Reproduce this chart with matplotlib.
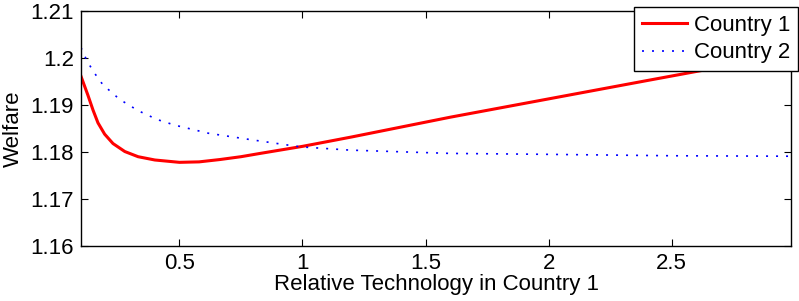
import matplotlib
matplotlib.use('Agg')
import matplotlib.pyplot as plt

# values
x_red = [0.1, 0.128, 0.149, 0.169, 0.196, 0.23, 0.278, 0.332, 0.4, 0.5, 0.58, 0.665, 0.75, 0.828,
         1.0, 1.2, 1.6, 2.0, 2.4, 2.99]
y_red = [1.1961, 1.1921, 1.1889, 1.1862, 1.1838, 1.1818, 1.1801, 1.1790, 1.1783, 1.1778, 1.1779,
         1.1784, 1.1790, 1.1797, 1.1812, 1.1832, 1.1874, 1.1913, 1.1952, 1.2009]
x_blue = [0.1, 0.125, 0.156, 0.189, 0.257, 0.332, 0.41, 0.482, 0.617, 0.78, 0.99, 1.193, 1.6, 2.0,
          2.5, 2.99]
y_blue = [1.2022, 1.1993, 1.1967, 1.1943, 1.1912, 1.1888, 1.1869, 1.1857, 1.1840, 1.1827, 1.1811,
          1.1804, 1.1797, 1.1795, 1.1792, 1.1791]

plt.rcParams['font.family'] = ['Liberation Sans', 'DejaVu Sans']
plt.rcParams['font.size'] = 16

fig = plt.figure(figsize=(7.99, 3.01), dpi=100)
ax = fig.add_axes([81 / 799, 55 / 301, 710 / 799, 235 / 301])

ax.plot(x_red, y_red, color='red', lw=2.2, label='Country 1')
ax.plot(x_blue, y_blue, color='blue', lw=1.2, linestyle=(0, (1.2, 4.8)), label='Country 2')

ax.set_xlim(0.1, 2.985)
ax.set_ylim(1.16, 1.21)
ax.set_xticks([0.5, 1, 1.5, 2, 2.5])
ax.set_xticklabels(['0.5', '1', '1.5', '2', '2.5'])
ax.set_yticks([1.16, 1.17, 1.18, 1.19, 1.2, 1.21])
ax.set_yticklabels(['1.16', '1.17', '1.18', '1.19', '1.2', '1.21'])
ax.tick_params(direction='in', length=5, width=0.8, top=True, right=True, pad=5)
for s in ax.spines.values():
    s.set_linewidth(1.0)

ax.set_xlabel('Relative Technology in Country 1', labelpad=0)
ax.set_ylabel('Welfare', labelpad=5)

leg = ax.legend(loc='upper right', bbox_to_anchor=(1.0099, 1.017), borderaxespad=0,
                fancybox=False, edgecolor='black', framealpha=1, handlelength=2.05,
                handletextpad=0.3, borderpad=0.35, labelspacing=0.3)
leg.get_frame().set_linewidth(1.0)

fig.savefig('out.png', dpi=100)
